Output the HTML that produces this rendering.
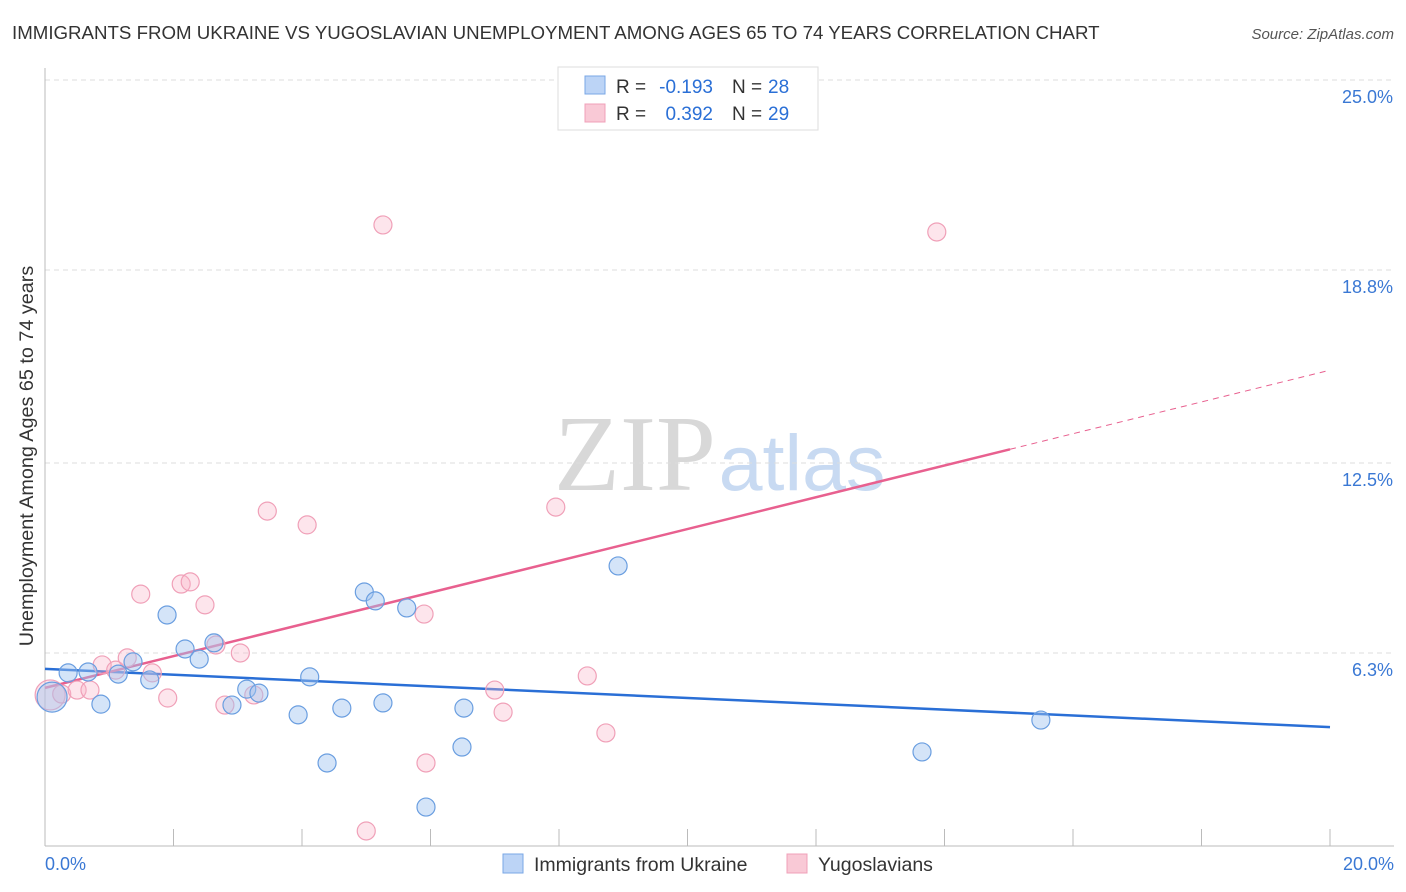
<!DOCTYPE html>
<html><head><meta charset="utf-8"><style>
body{margin:0;background:#fff;font-family:"Liberation Sans",sans-serif;}
#wrap{position:relative;width:1406px;height:892px;overflow:hidden;}
</style></head><body>
<div id="wrap">
<svg id="svg" width="1406" height="892" xmlns="http://www.w3.org/2000/svg">
<text x="12" y="39" font-size="18.7" fill="#333">IMMIGRANTS FROM UKRAINE VS YUGOSLAVIAN UNEMPLOYMENT AMONG AGES 65 TO 74 YEARS CORRELATION CHART</text>
<text x="1394" y="39" font-size="15" fill="#555" text-anchor="end" font-style="italic">Source: ZipAtlas.com</text>
<text x="33" y="456" font-size="19.8" fill="#333" text-anchor="middle" transform="rotate(-90 33 456)">Unemployment Among Ages 65 to 74 years</text>
<g><text x="635" y="490" font-size="108" fill="#d8d8d8" font-family="Liberation Serif,serif" text-anchor="middle">ZIP</text><text x="802" y="490" font-size="79" fill="#c8daf2" text-anchor="middle">atlas</text></g>
<g id="grid"></g><g id="axes"></g><g id="lines"></g><g id="pts"></g>
<g>
<rect x="558" y="67" width="260" height="63" fill="#fff" stroke="#ddd"/>
<rect x="585" y="76" width="20" height="18" fill="#bcd4f6" stroke="#7aa7e6"/>
<text x="616" y="93" font-size="19" fill="#333">R =</text>
<text x="713" y="93" font-size="19" fill="#2a6fd6" text-anchor="end">-0.193</text>
<text x="732" y="93" font-size="19" fill="#333">N =</text>
<text x="768" y="93" font-size="19" fill="#2a6fd6">28</text>
<rect x="585" y="104" width="20" height="18" fill="#f9c9d6" stroke="#f0a0b8"/>
<text x="616" y="120" font-size="19" fill="#333">R =</text>
<text x="713" y="120" font-size="19" fill="#2a6fd6" text-anchor="end">0.392</text>
<text x="732" y="120" font-size="19" fill="#333">N =</text>
<text x="768" y="120" font-size="19" fill="#2a6fd6">29</text>
</g>
<g>
<rect x="503" y="854" width="20" height="19" fill="#bcd4f6" stroke="#7aa7e6"/>
<text x="534" y="871" font-size="19.5" fill="#333">Immigrants from Ukraine</text>
<rect x="787" y="854" width="20" height="19" fill="#f9c9d6" stroke="#f0a0b8"/>
<text x="818" y="871" font-size="19.5" fill="#333">Yugoslavians</text>
</g>
</svg>
</div>
<script>
const yTicks=[25.0,18.8,12.5,6.3];
const yTickLabels=["25.0%","18.8%","12.5%","6.3%"];
const xTicks=[0,2,4,6,8,10,12,14,16,18,20];
const blueX=[0.11,0.36,0.67,0.87,1.14,1.37,1.63,1.90,2.18,2.40,2.63,2.91,3.14,3.33,3.94,4.12,4.39,4.62,4.97,5.14,5.26,5.63,5.93,6.49,6.52,8.92,13.65,15.50];
const blueY=[4.86,5.65,5.68,4.63,5.61,6.01,5.42,7.54,6.43,6.10,6.63,4.60,5.12,4.99,4.28,5.52,2.71,4.50,8.29,8.00,4.67,7.77,1.27,3.23,4.50,9.14,3.07,4.11];
const pinkX=[0.08,0.26,0.50,0.70,0.89,1.10,1.28,1.49,1.67,1.91,2.12,2.26,2.49,2.66,2.80,3.04,3.25,3.46,4.08,5.00,5.26,5.90,5.93,7.00,7.13,7.95,8.44,8.73,13.88];
const pinkY=[4.93,4.96,5.09,5.09,5.91,5.74,6.14,8.22,5.65,4.83,8.55,8.62,7.87,6.56,4.60,6.30,4.93,10.93,10.48,0.49,20.27,7.57,2.71,5.09,4.37,11.06,5.55,3.69,20.04];
const blueTrend=[5.78,3.88];
const pinkTrend=[5.16,15.53];
const pinkSolidEnd=15.02;
const NS="http://www.w3.org/2000/svg";
const X=v=>45+v/20*1285, Y=v=>846-v/6.25*191.5;
function mk(p,t,a){const e=document.createElementNS(NS,t);for(const k in a)e.setAttribute(k,a[k]);document.getElementById(p).appendChild(e);return e;}
yTicks.forEach((t,i)=>{
 const l=mk('grid','line',{x1:45,x2:1394,y1:Y(t),y2:Y(t),stroke:'#ddd','stroke-dasharray':'5,4'});
 
 
 const tx=mk('grid','text',{x:1393,y:Y(t)+23,'font-size':18,fill:'#3a78d4','text-anchor':'end'});
 tx.textContent=yTickLabels[i];
 
 
});
mk('axes','line',{x1:45,x2:45,y1:68,y2:846,stroke:'#bbb'});
mk('axes','line',{x1:45,x2:1394,y1:846,y2:846,stroke:'#bbb'});
xTicks.forEach(t=>{const l=mk('axes','line',{x1:X(t),x2:X(t),y1:829,y2:846,stroke:'#bbb'});
 
 });
const xl0=mk('axes','text',{x:45,y:870,'font-size':18,fill:'#3a78d4'});xl0.textContent='0.0%';


const xl1=mk('axes','text',{x:1394,y:870,'font-size':18,fill:'#3a78d4','text-anchor':'end'});xl1.textContent='20.0%';


function pts(xs,ys,fill,stroke,name){xs.forEach((x,i)=>{const c=mk('pts','circle',{cx:X(x),cy:Y(ys[i]),r:i===0?15:9,fill:fill,stroke:stroke,'stroke-width':1.2});
 
 });}
pts(pinkX,pinkY,'rgba(248,180,200,0.35)','#f0a0b8','point-yugoslavians');
pts(blueX,blueY,'rgba(160,196,240,0.45)','#6a9ee0','point-ukraine');
const bl=mk('lines','line',{x1:X(0),y1:Y(blueTrend[0]),x2:X(20),y2:Y(blueTrend[1]),stroke:'#2a6fd6','stroke-width':2.5});


const py=x=>pinkTrend[0]+(pinkTrend[1]-pinkTrend[0])*x/20;
const pl=mk('lines','line',{x1:X(0),y1:Y(py(0)),x2:X(pinkSolidEnd),y2:Y(py(pinkSolidEnd)),stroke:'#e8608f','stroke-width':2.5});


const pd=mk('lines','line',{x1:X(pinkSolidEnd),y1:Y(py(pinkSolidEnd)),x2:X(20),y2:Y(py(20)),stroke:'#e8608f','stroke-width':1,'stroke-dasharray':'6,5'});


</script>
</body></html>
